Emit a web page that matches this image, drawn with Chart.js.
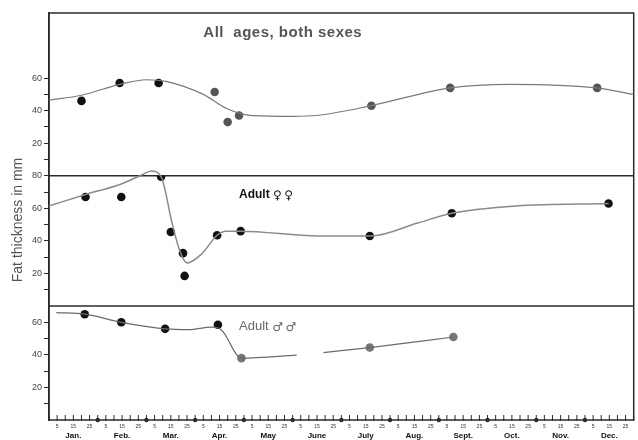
<!DOCTYPE html>
<html>
<head>
<meta charset="utf-8">
<script src="https://cdn.jsdelivr.net/npm/chart.js@4.4.1/dist/chart.umd.min.js"></script>
<style>
  body { margin: 0; background: #fff; }
  canvas { display: block; }
</style>
</head>
<body>
<canvas id="chart" width="638" height="440"></canvas>
<script>
// x values are days of the year on a 30-day-month axis (0 = Jan 1, 360 = Dec 31)
const months = ['Jan.', 'Feb.', 'Mar.', 'Apr.', 'May', 'June', 'July', 'Aug.', 'Sept.', 'Oct.', 'Nov.', 'Dec.'];

// All ages, both sexes
const allDays = [20, 43.5, 67.5, 102, 110, 117, 198.5, 247, 337.5];
const allFat = [46, 57, 57, 51.5, 33, 37, 43, 54, 54];
const allCurveDays = [0, 20, 43, 60, 72, 95, 110, 125, 150, 166, 198, 247, 284, 337, 360];
const allCurveFat = [46.5, 49.5, 56, 59, 58, 50, 41, 37, 36.5, 37.2, 43, 54, 56.2, 54, 50];

// Adult females
const femDays = [22.5, 44.5, 69, 75, 82.5, 83.5, 103.5, 118, 197.5, 248, 344.5];
const femFat = [67, 67, 79.5, 45.5, 32.5, 18.5, 43.5, 46, 43, 57, 63];
const femCurveDays = [0, 22.5, 44.5, 57, 63, 69, 76, 80.5, 85, 94, 103.5, 109, 118, 166, 198, 227, 248, 288, 344.5];
const femCurveFat = [61.5, 68.5, 75, 80.5, 83, 79.5, 50, 34, 26.5, 32, 43.5, 46, 46, 43, 43, 51, 57, 61.5, 63];

// Adult males
const maleDays = [22, 44.5, 71.5, 104, 118.5, 197.5, 249];
const maleFat = [65, 60, 56, 58.5, 38, 44.5, 51];
const maleCurveDays = [4.5, 22, 44.5, 71.5, 86, 100, 106, 118.5, 152.5, 160, 169, 197.5, 249];
const maleCurveFat = [66, 65, 60, 56, 55.5, 57, 55.5, 38, 39.8, null, 41.4, 44.5, 51];

const pts = (xs, ys) => xs.map((x, i) => ({ x: x, y: ys[i] }));

const INK = '#2b2b2b';

const framePlugin = {
  id: 'frame',
  beforeDatasetsDraw(chart) {
    const { ctx, chartArea: a, scales } = chart;
    ctx.save();
    ctx.strokeStyle = INK;
    ctx.lineWidth = 1.5;
    ctx.strokeRect(a.left, a.top, a.right - a.left, a.bottom - a.top);
    [scales.yMid.top, scales.yBot.top].forEach(y => {
      ctx.beginPath();
      ctx.moveTo(a.left, y);
      ctx.lineTo(a.right, y);
      ctx.stroke();
    });
    // day ticks pointing up from the time axis, dots at month boundaries
    const x = scales.x;
    ctx.lineWidth = 1;
    x.ticks.forEach(t => {
      const px = x.getPixelForValue(t.value);
      ctx.beginPath();
      ctx.moveTo(px, a.bottom + 1);
      ctx.lineTo(px, a.bottom - 5);
      ctx.stroke();
      if (t.value % 30 === 0 && t.value > 0 && t.value < 360) {
        ctx.fillStyle = INK;
        ctx.beginPath();
        ctx.arc(px, a.bottom, 2.2, 0, Math.PI * 2);
        ctx.fill();
      }
    });
    ctx.restore();
  },
  afterDraw(chart) {
    const { ctx, scales } = chart;
    const sym = 'DejaVu Sans, sans-serif';
    ctx.save();
    ctx.textBaseline = 'middle';
    ctx.textAlign = 'left';

    ctx.fillStyle = '#555';
    ctx.font = 'bold 15px "Liberation Sans", Arial, sans-serif';
    ctx.letterSpacing = '0.5px';
    ctx.fillText('All  ages, both sexes', scales.x.getPixelForValue(95), scales.yTop.getPixelForValue(88));
    ctx.letterSpacing = '0px';

    let lx = scales.x.getPixelForValue(117);
    let ly = scales.yMid.getPixelForValue(68.5);
    ctx.fillStyle = '#111';
    ctx.font = 'bold 12px "Liberation Sans", Arial, sans-serif';
    ctx.fillText('Adult', lx, ly);
    lx += ctx.measureText('Adult ').width;
    ctx.font = '12px ' + sym;
    ctx.fillText('\u2640\u2009\u2640', lx, ly + 1);

    lx = scales.x.getPixelForValue(117);
    ly = scales.yBot.getPixelForValue(57.5);
    ctx.fillStyle = '#666';
    ctx.font = '13px "Liberation Sans", Arial, sans-serif';
    ctx.fillText('Adult', lx, ly);
    lx += ctx.measureText('Adult ').width;
    ctx.font = '12px ' + sym;
    ctx.fillText('\u2642\u2009\u2642', lx, ly + 1);

    // y title
    ctx.translate(18, 220);
    ctx.rotate(-Math.PI / 2);
    ctx.textAlign = 'center';
    ctx.fillStyle = '#555';
    ctx.font = '14px "Liberation Sans", Arial, sans-serif';
    ctx.fillText('Fat thickness in mm', 0, 0);
    ctx.restore();
  }
};

const yAxis = (maxTick, max, weight) => ({
  type: 'linear',
  position: 'left',
  stack: 'panels',
  stackWeight: weight,
  min: 0,
  max: max,
  afterBuildTicks: s => {
    const t = [];
    for (let v = 10; v <= maxTick; v += 10) t.push({ value: v });
    s.ticks = t;
  },
  afterFit: s => { s.width = 49; },
  grid: { drawOnChartArea: false, tickLength: 5, tickColor: INK, tickWidth: 1 },
  border: { color: INK, width: 1.5 },
  ticks: {
    autoSkip: false,
    padding: 2,
    color: '#444',
    font: { size: 9 },
    callback: v => (v % 20 === 0 ? v : '')
  }
});

Chart.defaults.font.family = '"Liberation Sans", Arial, sans-serif';

new Chart(document.getElementById('chart'), {
  type: 'scatter',
  data: {
    datasets: [
      { data: pts(allCurveDays, allCurveFat), yAxisID: 'yTop', showLine: true, pointRadius: 0,
        borderColor: '#7a7a7a', borderWidth: 1.2, cubicInterpolationMode: 'monotone', clip: false },
      { data: pts(allDays, allFat), yAxisID: 'yTop', pointRadius: 4.3, borderWidth: 0,
        backgroundColor: c => (c.dataIndex < 3 ? '#111' : '#555') },
      { data: pts(femCurveDays, femCurveFat), yAxisID: 'yMid', showLine: true, pointRadius: 0,
        borderColor: '#8a8a8a', borderWidth: 1.5, cubicInterpolationMode: 'monotone', clip: false },
      { data: pts(femDays, femFat), yAxisID: 'yMid', pointRadius: 4.3, borderWidth: 0, backgroundColor: '#111' },
      { data: pts(maleCurveDays, maleCurveFat), yAxisID: 'yBot', showLine: true, pointRadius: 0, spanGaps: false,
        borderColor: '#6a6a6a', borderWidth: 1.2, cubicInterpolationMode: 'monotone', clip: false },
      { data: pts(maleDays, maleFat), yAxisID: 'yBot', pointRadius: 4.3, borderWidth: 0,
        backgroundColor: c => (c.dataIndex < 4 ? '#111' : '#777') }
    ]
  },
  options: {
    responsive: false,
    animation: false,
    layout: { padding: { top: 13, right: 2, left: 0, bottom: 0 } },
    plugins: { legend: { display: false }, tooltip: { enabled: false } },
    scales: {
      x: {
        type: 'linear',
        position: 'bottom',
        min: 0,
        max: 360,
        afterBuildTicks: s => {
          const t = [];
          for (let v = 0; v <= 360; v += 5) t.push({ value: v });
          s.ticks = t;
        },
        afterFit: s => { s.height = 11; },
        grid: { display: false, drawTicks: false },
        border: { display: false },
        ticks: {
          autoSkip: false,
          maxRotation: 0,
          padding: 4,
          color: '#333',
          font: { size: 5 },
          callback: v => {
            const d = v % 30;
            return (d === 5 || d === 15 || d === 25) ? String(d) : '';
          }
        }
      },
      xm: {
        type: 'linear',
        position: 'bottom',
        min: 0,
        max: 360,
        afterBuildTicks: s => { s.ticks = months.map((m, i) => ({ value: 15 + i * 30 })); },
        afterFit: s => { s.height = 9; },
        grid: { display: false, drawTicks: false },
        border: { display: false },
        ticks: {
          autoSkip: false,
          maxRotation: 0,
          padding: 0,
          color: '#111',
          font: { size: 8, weight: 'bold' },
          callback: v => months[Math.round((v - 15) / 30)]
        }
      },
      yBot: yAxis(60, 70, 70),
      yMid: yAxis(80, 80, 80),
      yTop: yAxis(60, 100, 100)
    }
  },
  plugins: [framePlugin]
});
</script>
</body>
</html>
